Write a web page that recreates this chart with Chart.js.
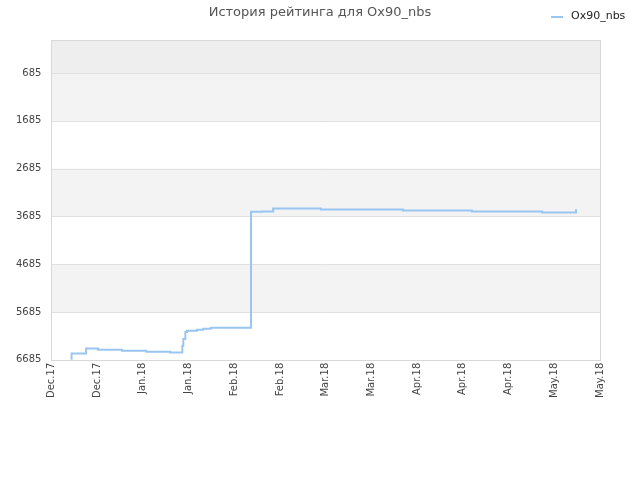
<!DOCTYPE html>
<html>
<head>
<meta charset="utf-8">
<script src="https://cdn.jsdelivr.net/npm/chart.js@4/dist/chart.umd.min.js"></script>
<style>
html,body{margin:0;padding:0;background:#fff;}
#wrap{width:640px;height:480px;}
</style>
</head>
<body>
<div id="wrap"><canvas id="c" width="640" height="480"></canvas></div>
<script>
const titleText = 'История рейтинга для Ox90_nbs';
const seriesName = 'Ox90_nbs';
const xTickLabels = ['Dec.17','Dec.17','Jan.18','Jan.18','Feb.18','Feb.18','Mar.18','Mar.18','Apr.18','Apr.18','Apr.18','May.18','May.18'];
const yTickValues = [685,1685,2685,3685,4685,5685,6685];
// x positions in tick-interval units (0 = first label, 12 = last label)
const pointX = [0.437,0.44,0.758,1.02,1.545,2.077,2.60,2.863,2.885,2.929,2.966,3.18,3.32,3.49,4.365,4.605,4.85,5.895,7.687,9.196,10.73,11.475];
const ratings = [6685,6553,6449,6476,6497,6518,6532,6392,6252,6106,6079,6058,6037,6016,3591,3584,3522,3543,3564,3584,3605,3534];

const points = pointX.map((x,i)=>({x:x,y:ratings[i]}));

const decor = {
  id:'decor',
  beforeDatasetsDraw(chart){
    const {ctx, chartArea:a, scales:{y}} = chart;
    ctx.save();
    const bands = [[-5,685,'#eeeeee'],[685,1685,'#f3f3f3'],[2685,3685,'#f3f3f3'],[4685,5685,'#f3f3f3']];
    bands.forEach(b=>{
      const y1=y.getPixelForValue(b[0]), y2=y.getPixelForValue(b[1]);
      ctx.fillStyle=b[2];
      ctx.fillRect(a.left, Math.min(y1,y2), a.right-a.left, Math.abs(y2-y1));
    });
    ctx.strokeStyle='#e0e0e0'; ctx.lineWidth=1;
    yTickValues.forEach(v=>{
      const py=Math.round(y.getPixelForValue(v))+0.5;
      ctx.beginPath(); ctx.moveTo(a.left,py); ctx.lineTo(a.right,py); ctx.stroke();
    });
    ctx.strokeStyle='#d8d8d8';
    ctx.strokeRect(Math.round(a.left)+0.5, Math.round(a.top)+0.5, Math.round(a.right-a.left), Math.round(a.bottom-a.top));
    ctx.restore();
  },
  afterDraw(chart){
    const ctx=chart.ctx;
    ctx.save();
    ctx.fillStyle='#555';
    ctx.font='13px "DejaVu Sans"';
    ctx.textAlign='center'; ctx.textBaseline='middle';
    ctx.fillText(titleText, 320, 13);
    ctx.strokeStyle='#99c5f1'; ctx.lineWidth=2;
    ctx.beginPath(); ctx.moveTo(551,17); ctx.lineTo(563,17); ctx.stroke();
    ctx.fillStyle='#222';
    ctx.font='11px "DejaVu Sans"';
    ctx.textAlign='left';
    ctx.fillText(seriesName, 571, 16);
    ctx.restore();
  }
};

new Chart(document.getElementById('c'), {
  type:'line',
  data:{datasets:[{label:seriesName,data:points,borderColor:'#99c5f1',backgroundColor:'#99c5f1',borderWidth:2,pointRadius:0,stepped:'before',fill:false}]},
  options:{
    responsive:false, animation:false,
    layout:{padding:{top:40,right:40,left:6,bottom:79}},
    plugins:{legend:{display:false},title:{display:false},tooltip:{enabled:false}},
    scales:{
      x:{type:'linear',min:0,max:12,
        afterBuildTicks(s){s.ticks=xTickLabels.map((_,i)=>({value:i}));},
        ticks:{autoSkip:false,minRotation:90,maxRotation:90,color:'#444',font:{family:'DejaVu Sans',size:10},callback:(v)=>xTickLabels[v]},
        grid:{display:false,drawTicks:false},border:{display:false}},
      y:{type:'linear',reverse:true,min:-5,max:6685,
        afterBuildTicks(s){s.ticks=yTickValues.map(v=>({value:v}));},
        ticks:{autoSkip:false,color:'#444',padding:10,font:{family:'DejaVu Sans',size:10},callback:(v)=>String(v)},
        grid:{display:false,drawTicks:false},border:{display:false}}
    }
  },
  plugins:[decor]
});
</script>
</body>
</html>
